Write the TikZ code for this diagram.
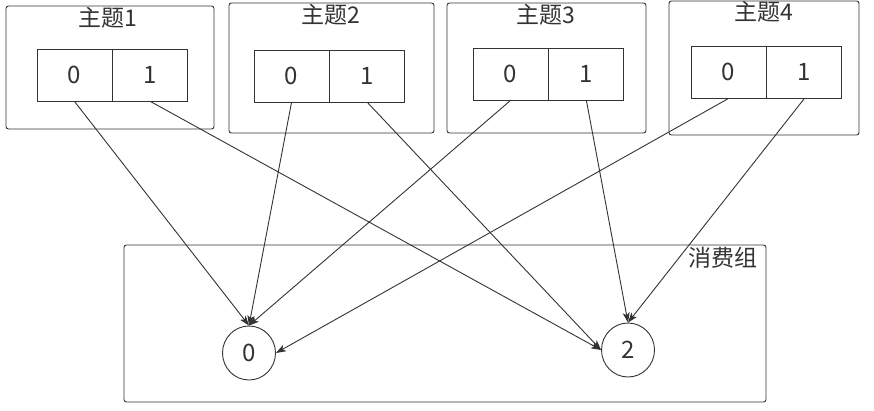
\documentclass[tikz,border=0pt]{standalone}
\usepackage{fontspec}
\setmainfont{Noto Sans CJK SC}
\usepackage{tikz}
\usetikzlibrary{arrows.meta,positioning,shapes.geometric}
\definecolor{lineg}{rgb}{0.2,0.2,0.2}

\begin{document}
\begin{tikzpicture}[x=1pt,y=-1pt,
        topic/.style={draw=lineg,rounded corners=2.5pt,line width=0.9pt,inner sep=0pt},
        part/.style={draw=lineg,line width=0.9pt,minimum width=75pt,minimum height=52pt,
                     inner sep=0pt,font=\fontsize{24}{26}\selectfont,text=lineg},
        ttl/.style={font=\fontsize{23}{25}\selectfont,text=lineg,inner sep=0pt},
        cons/.style={draw=lineg,ellipse,line width=0.9pt,minimum width=53pt,minimum height=54pt,
                     inner sep=0pt,font=\fontsize{24}{26}\selectfont,text=lineg},
        a/.style={-{Stealth[length=10pt,width=7pt,inset=2.5pt]},line width=0.9pt,lineg}
      ]
        \useasboundingbox (0,0) rectangle (874,410);

        % topics
        \node[topic,minimum width=208pt,minimum height=123pt] (t1) at (110,67.5) {};
        \node[topic,minimum width=205pt,minimum height=130pt] (t2) at (331.5,68) {};
        \node[topic,minimum width=199pt,minimum height=130pt] (t3) at (546.5,68) {};
        \node[topic,minimum width=190pt,minimum height=134pt] (t4) at (764,68) {};

        \node[ttl] at (108,18) {主题1};
        \node[ttl] at (331,15) {主题2};
        \node[ttl] at (546,15) {主题3};
        \node[ttl] at (764,12) {主题4};

        % partitions
        \node[part] (t1p0) at (74.5,75) {0};
        \node[part, right=0pt of t1p0] (t1p1) {1};
        \node[part] (t2p0) at (291.5,76) {0};
        \node[part, right=0pt of t2p0] (t2p1) {1};
        \node[part] (t3p0) at (510.5,74) {0};
        \node[part, right=0pt of t3p0] (t3p1) {1};
        \node[part] (t4p0) at (728.5,72) {0};
        \node[part, right=0pt of t4p0] (t4p1) {1};

        % consumer group
        \node[topic,minimum width=642pt,minimum height=157pt] (grp) at (445,323.5) {};
        \node[ttl,anchor=north east] at ([xshift=-9pt,yshift=-2pt]grp.north east) {消费组};
        \node[cons] (c0) at (249,353) {0};
        \node[cons] (c2) at (628,350) {2};

        \draw[a] (t1p0.south)--(c0.north);
        \draw[a] (t2p0.south)--(c0.north);
        \draw[a] (t3p0.south)--(c0.north);
        \draw[a] (t4p0.south)--(c0.east);
        \draw[a] (t1p1.south)--(c2.west);
        \draw[a] (t2p1.south)--(c2.west);
        \draw[a] (t3p1.south)--(c2.north);
        \draw[a] (t4p1.south)--(c2.north);
      \end{tikzpicture}
\end{document}
